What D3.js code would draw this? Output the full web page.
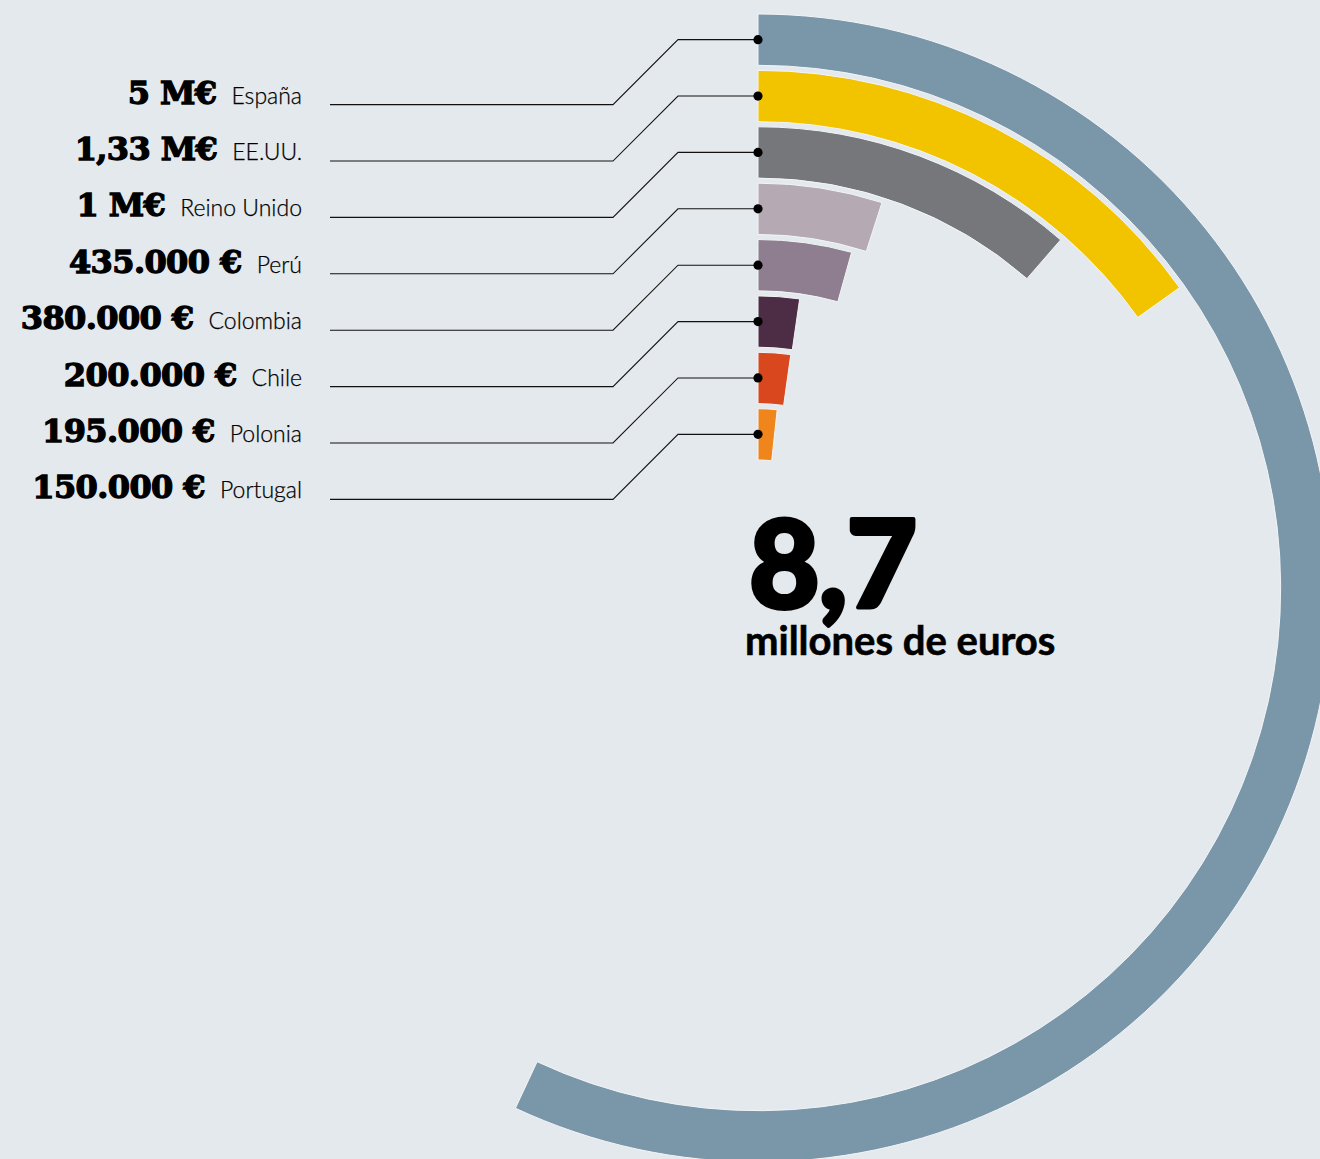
<!DOCTYPE html>
<html>
<head>
<meta charset="utf-8">
<script src="https://cdn.jsdelivr.net/npm/d3@7"></script>
<style>
  html, body { margin: 0; padding: 0; background: #e4e9ed; }
  svg { display: block; }
</style>
</head>
<body>
<svg id="chart" width="1320" height="1159"></svg>
<script>
// ---- data ----
const countries = ["España", "EE.UU.", "Reino Unido", "Perú", "Colombia", "Chile", "Polonia", "Portugal"];
const values = [5, 1.33, 1, 0.435, 0.38, 0.2, 0.195, 0.15];
const valueLabels = ["5 M€", "1,33 M€", "1 M€", "435.000 €", "380.000 €", "200.000 €", "195.000 €", "150.000 €"];
const colors = ["#7a97aa", "#f2c400", "#76777b", "#b5aab3", "#8f7e8f", "#4d2d45", "#d8471e", "#f0861b"];
const totalLabel = "8,7";
const totalUnit = "millones de euros";

// ---- layout ----
const W = 1320, H = 1159;
const cx = 758, cy = 588;
const svg = d3.select("#chart");
svg.append("rect").attr("width", W).attr("height", H).attr("fill", "#e4e9ed");

const rScale = d3.scaleBand()
  .domain(countries.slice().reverse())
  .range([128, 574])
  .paddingInner(0.09);

const aScale = d3.scaleLinear()
  .domain([0, 5])
  .range([0, 205 * Math.PI / 180]);

const arc = d3.arc()
  .innerRadius(d => rScale(d.country))
  .outerRadius(d => rScale(d.country) + rScale.bandwidth())
  .startAngle(0)
  .endAngle(d => aScale(d.value));

const rows = countries.map((c, i) => ({ country: c, value: values[i], label: valueLabels[i], color: colors[i] }));

const g = svg.append("g").attr("transform", `translate(${cx},${cy})`);
g.selectAll("path.bar")
  .data(rows)
  .join("path")
  .attr("class", "bar")
  .attr("d", arc)
  .attr("fill", d => d.color)
  .attr("stroke", "#f3f5f7")
  .attr("stroke-width", 1);

// ---- leader lines, dots, labels ----
const xDot = cx, xBend1 = 678, xBend2 = 613, xEnd = 330;
const drop = 65;
const nameX = 302;

rows.forEach(d => {
  const yDot = cy - (rScale(d.country) + rScale.bandwidth() / 2);
  const yLab = yDot + drop;
  svg.append("path")
    .attr("d", `M${xDot},${yDot} L${xBend1},${yDot} L${xBend2},${yLab} L${xEnd},${yLab}`)
    .attr("fill", "none")
    .attr("stroke", "#111")
    .attr("stroke-width", 1.1);
  svg.append("circle")
    .attr("cx", xDot).attr("cy", yDot).attr("r", 4.6)
    .attr("fill", "#000");

  const name = svg.append("text")
    .attr("x", nameX).attr("y", yLab - 1)
    .attr("text-anchor", "end")
    .attr("font-family", "Lato, 'Open Sans', sans-serif")
    .attr("font-weight", 300)
    .attr("font-size", 23)
    .attr("fill", "#000")
    .attr("stroke", "#000")
    .attr("stroke-width", 0.25)
    .text(d.country);
  const nw = name.node().getComputedTextLength();

  svg.append("text")
    .attr("x", nameX - nw - 15).attr("y", yLab - 1)
    .attr("text-anchor", "end")
    .attr("font-family", "'DejaVu Serif', serif")
    .attr("font-weight", 700)
    .attr("font-size", 32)
    .attr("letter-spacing", -0.6)
    .attr("fill", "#000")
    .attr("stroke", "#000")
    .attr("stroke-width", 1.3)
    .text(d.label);
});

// ---- total ----
svg.append("text")
  .attr("x", 749).attr("y", 608)
  .attr("font-family", "Lato, 'DejaVu Sans', sans-serif")
  .attr("font-weight", 900)
  .attr("font-size", 122)
  .attr("letter-spacing", -1)
  .attr("fill", "#000")
  .attr("stroke", "#000")
  .attr("stroke-width", 4)
  .attr("stroke-linejoin", "round")
  .text(totalLabel);

svg.append("text")
  .attr("x", 745).attr("y", 655)
  .attr("font-family", "Lato, 'Open Sans', sans-serif")
  .attr("font-weight", 700)
  .attr("font-size", 40)
  .attr("fill", "#000")
  .attr("stroke", "#000")
  .attr("stroke-width", 0.6)
  .text(totalUnit);
</script>
</body>
</html>
